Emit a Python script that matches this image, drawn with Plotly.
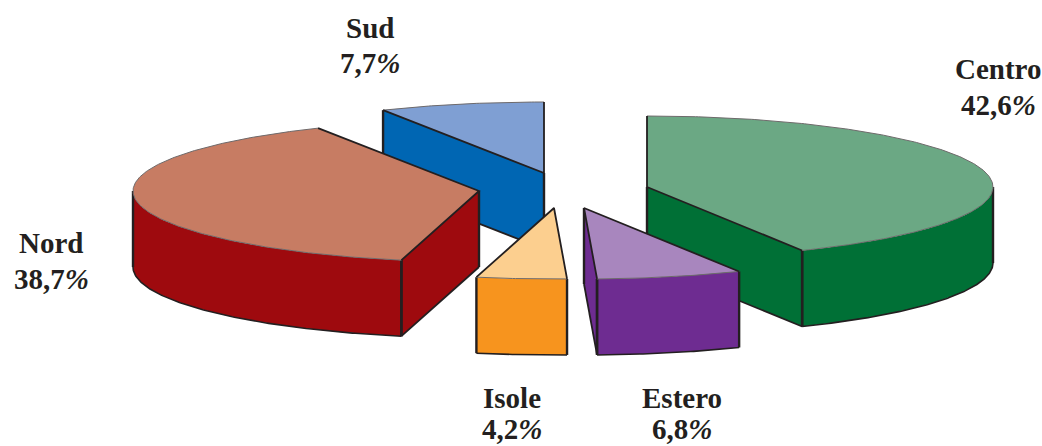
import numpy as np
import plotly.graph_objects as go

# Data
categories = ["Centro", "Estero", "Isole", "Nord", "Sud"]
shares = [42.6, 6.8, 4.2, 38.7, 7.7]

# Styling
top_colors = ["#6BA884", "#A886BE", "#FCCF8F", "#C77C63", "#7F9FD3"]
side_colors = ["#007036", "#6E2C91", "#F7941E", "#9E0A0E", "#0066B3"]
edge_color = "#231F20"
apex_x = [647, 584, 554, 479, 544]
apex_y = [187, 208, 208, 191, 173]
label_x = [998, 682, 512, 51, 370]
name_y = [69, 398, 398, 243, 28]
value_y = [105, 429, 429, 279, 63]
draw_order = [4, 3, 0, 1, 2]
RX, RY, DEPTH = 346, 71, 76

fig = go.Figure()


def rim(cx, cy, a0, a1, drop=0):
    t = np.radians(np.linspace(a0, a1, max(int(abs(a1 - a0)) * 2, 2) + 1))
    return cx + RX * np.sin(t), cy - RY * np.cos(t) + drop


def face(x, y, color):
    fig.add_trace(go.Scatter(x=list(x), y=list(y), mode="lines", fill="toself",
                             fillcolor=color, line=dict(width=0), hoverinfo="skip",
                             showlegend=False))


def edge(x, y, width=2.0, color=edge_color):
    fig.add_trace(go.Scatter(x=list(x), y=list(y), mode="lines",
                             line=dict(width=width, color=color), hoverinfo="skip",
                             showlegend=False))


edges = np.concatenate([[0], np.cumsum(shares) / sum(shares) * 360])

for i in draw_order:
    a0, a1 = edges[i], edges[i + 1]
    cx, cy = apex_x[i], apex_y[i]
    tx, ty = rim(cx, cy, a0, a1)

    # Cut faces that look toward the viewer
    cuts = []
    if 180 < a0 < 360:
        cuts.append(a0)
    if 0 < a1 < 180:
        cuts.append(a1)

    for c in cuts:
        rx_, ry_ = rim(cx, cy, c, c)
        px, py = rx_[0], ry_[0]
        face([cx, px, px, cx, cx], [cy, py, py + DEPTH, cy + DEPTH, cy], side_colors[i])
        edge([cx, cx], [cy, cy + DEPTH], 2.4)
        edge([cx, px], [cy + DEPTH, py + DEPTH], 1.8)

    # Outer wall: the part of the rim that faces the viewer (90-270 degrees)
    s0, s1 = max(a0, 90), min(a1, 270)
    if s1 > s0:
        ox, oy = rim(cx, cy, s0, s1)
        bx, by = rim(cx, cy, s0, s1, DEPTH)
        face(np.r_[ox, bx[::-1], ox[0]], np.r_[oy, by[::-1], oy[0]], side_colors[i])
        edge(bx, by, 1.6)
        edge([ox[0], bx[0]], [oy[0], by[0]], 2.4)
        edge([ox[-1], bx[-1]], [oy[-1], by[-1]], 2.4)

    for c in cuts:
        rx_, ry_ = rim(cx, cy, c, c)
        edge([rx_[0], rx_[0]], [ry_[0], ry_[0] + DEPTH], 2.4)

    # Top face
    face(np.r_[cx, tx, cx], np.r_[cy, ty, cy], top_colors[i])
    edge(tx, ty, 1.0, "#6E6A6B")
    edge([tx[0], cx, tx[-1]], [ty[0], cy, ty[-1]], 1.8)

label_font = dict(family="Liberation Serif", size=29, color=edge_color)
for name, val, lx, ny, vy in zip(categories, shares, label_x, name_y, value_y):
    fig.add_annotation(x=lx, y=ny, xref="x", yref="y", showarrow=False,
                       text=f"<b>{name}</b>", font=label_font)
    fig.add_annotation(x=lx, y=vy, xref="x", yref="y", showarrow=False,
                       text=f"<b>{str(val).replace('.', ',')}<i>%</i></b>", font=label_font)

fig.update_xaxes(range=[0, 1042], visible=False, fixedrange=True)
fig.update_yaxes(range=[446, 0], visible=False, fixedrange=True)
fig.update_layout(width=1042, height=446, margin=dict(l=0, r=0, t=0, b=0),
                  paper_bgcolor="white", plot_bgcolor="white", showlegend=False)
fig.write_html("out.html", config=dict(displayModeBar=False),
               post_script="document.body.style.margin='0';document.documentElement.style.overflow='hidden';")
